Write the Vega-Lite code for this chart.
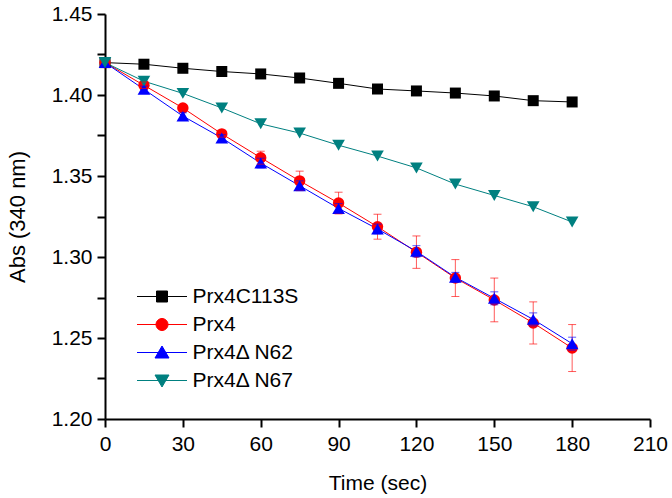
{
  "$schema": "https://vega.github.io/schema/vega-lite/v6.json",
  "width": 545,
  "height": 405,
  "autosize": "none",
  "padding": {"left": 105, "top": 14, "right": 22, "bottom": 79},
  "background": "white",
  "config": {"view": {"stroke": null}, "font": "Liberation Sans"},
  "datasets": {
    "main": [
      {"series": "Prx4C113S", "t": 0, "abs": 1.420},
      {"series": "Prx4C113S", "t": 15, "abs": 1.419},
      {"series": "Prx4C113S", "t": 30, "abs": 1.4165},
      {"series": "Prx4C113S", "t": 45, "abs": 1.4145},
      {"series": "Prx4C113S", "t": 60, "abs": 1.413},
      {"series": "Prx4C113S", "t": 75, "abs": 1.4105},
      {"series": "Prx4C113S", "t": 90, "abs": 1.4072},
      {"series": "Prx4C113S", "t": 105, "abs": 1.4037},
      {"series": "Prx4C113S", "t": 120, "abs": 1.4025},
      {"series": "Prx4C113S", "t": 135, "abs": 1.4012},
      {"series": "Prx4C113S", "t": 150, "abs": 1.3994},
      {"series": "Prx4C113S", "t": 165, "abs": 1.3965},
      {"series": "Prx4C113S", "t": 180, "abs": 1.3957},
      {"series": "Prx4", "t": 0, "abs": 1.420},
      {"series": "Prx4", "t": 15, "abs": 1.406},
      {"series": "Prx4", "t": 30, "abs": 1.392},
      {"series": "Prx4", "t": 45, "abs": 1.376},
      {"series": "Prx4", "t": 60, "abs": 1.3613},
      {"series": "Prx4", "t": 75, "abs": 1.347},
      {"series": "Prx4", "t": 90, "abs": 1.3333},
      {"series": "Prx4", "t": 105, "abs": 1.3187},
      {"series": "Prx4", "t": 120, "abs": 1.303},
      {"series": "Prx4", "t": 135, "abs": 1.287},
      {"series": "Prx4", "t": 150, "abs": 1.2735},
      {"series": "Prx4", "t": 165, "abs": 1.2593},
      {"series": "Prx4", "t": 180, "abs": 1.2438},
      {"series": "Prx4Δ N62", "t": 0, "abs": 1.420},
      {"series": "Prx4Δ N62", "t": 15, "abs": 1.4035},
      {"series": "Prx4Δ N62", "t": 30, "abs": 1.387},
      {"series": "Prx4Δ N62", "t": 45, "abs": 1.3735},
      {"series": "Prx4Δ N62", "t": 60, "abs": 1.358},
      {"series": "Prx4Δ N62", "t": 75, "abs": 1.344},
      {"series": "Prx4Δ N62", "t": 90, "abs": 1.330},
      {"series": "Prx4Δ N62", "t": 105, "abs": 1.3173},
      {"series": "Prx4Δ N62", "t": 120, "abs": 1.3035},
      {"series": "Prx4Δ N62", "t": 135, "abs": 1.2875},
      {"series": "Prx4Δ N62", "t": 150, "abs": 1.2745},
      {"series": "Prx4Δ N62", "t": 165, "abs": 1.2615},
      {"series": "Prx4Δ N62", "t": 180, "abs": 1.2465},
      {"series": "Prx4Δ N67", "t": 0, "abs": 1.420},
      {"series": "Prx4Δ N67", "t": 15, "abs": 1.4085},
      {"series": "Prx4Δ N67", "t": 30, "abs": 1.401},
      {"series": "Prx4Δ N67", "t": 45, "abs": 1.392},
      {"series": "Prx4Δ N67", "t": 60, "abs": 1.3822},
      {"series": "Prx4Δ N67", "t": 75, "abs": 1.3765},
      {"series": "Prx4Δ N67", "t": 90, "abs": 1.369},
      {"series": "Prx4Δ N67", "t": 105, "abs": 1.3623},
      {"series": "Prx4Δ N67", "t": 120, "abs": 1.355},
      {"series": "Prx4Δ N67", "t": 135, "abs": 1.345},
      {"series": "Prx4Δ N67", "t": 150, "abs": 1.338},
      {"series": "Prx4Δ N67", "t": 165, "abs": 1.331},
      {"series": "Prx4Δ N67", "t": 180, "abs": 1.3216}
    ],
    "err": [
      {"series": "Prx4", "t": 15, "lo": 1.404, "hi": 1.408},
      {"series": "Prx4", "t": 30, "lo": 1.390, "hi": 1.394},
      {"series": "Prx4", "t": 45, "lo": 1.374, "hi": 1.378},
      {"series": "Prx4", "t": 60, "lo": 1.3573, "hi": 1.3653},
      {"series": "Prx4", "t": 75, "lo": 1.341, "hi": 1.353},
      {"series": "Prx4", "t": 90, "lo": 1.3266, "hi": 1.340},
      {"series": "Prx4", "t": 105, "lo": 1.311, "hi": 1.3264},
      {"series": "Prx4", "t": 120, "lo": 1.293, "hi": 1.313},
      {"series": "Prx4", "t": 135, "lo": 1.2756, "hi": 1.2984},
      {"series": "Prx4", "t": 150, "lo": 1.260, "hi": 1.287},
      {"series": "Prx4", "t": 165, "lo": 1.2463, "hi": 1.2723},
      {"series": "Prx4", "t": 180, "lo": 1.2293, "hi": 1.2583},
      {"series": "Prx4Δ N62", "t": 15, "lo": 1.4015, "hi": 1.4055},
      {"series": "Prx4Δ N62", "t": 30, "lo": 1.385, "hi": 1.389},
      {"series": "Prx4Δ N62", "t": 45, "lo": 1.3715, "hi": 1.3755},
      {"series": "Prx4Δ N62", "t": 60, "lo": 1.355, "hi": 1.361},
      {"series": "Prx4Δ N62", "t": 75, "lo": 1.341, "hi": 1.347},
      {"series": "Prx4Δ N62", "t": 90, "lo": 1.327, "hi": 1.333},
      {"series": "Prx4Δ N62", "t": 105, "lo": 1.3143, "hi": 1.3203},
      {"series": "Prx4Δ N62", "t": 120, "lo": 1.300, "hi": 1.307},
      {"series": "Prx4Δ N62", "t": 135, "lo": 1.2845, "hi": 1.2905},
      {"series": "Prx4Δ N62", "t": 150, "lo": 1.2705, "hi": 1.2785},
      {"series": "Prx4Δ N62", "t": 165, "lo": 1.2575, "hi": 1.2655},
      {"series": "Prx4Δ N62", "t": 180, "lo": 1.2425, "hi": 1.2505}
    ]
  },
  "layer": [
    {
      "data": {"name": "main"},
      "mark": {"type": "line", "strokeWidth": 1},
      "encoding": {
        "x": {
          "field": "t", "type": "quantitative",
          "scale": {"domain": [0, 210], "nice": false, "zero": false},
          "axis": {
            "title": "Time (sec)",
            "values": [0, 15, 30, 45, 60, 75, 90, 105, 120, 135, 150, 165, 180, 195, 210],
            "labelExpr": "datum.value % 30 === 0 ? datum.label : ''",
            "tickSize": 8,
            "grid": false,
            "domainColor": "black", "domainWidth": 2,
            "tickColor": "black", "tickWidth": 2,
            "labelFontSize": 21, "labelColor": "black", "labelPadding": 6,
            "labelFlush": false, "labelOverlap": false,
            "titleFontSize": 21, "titleFontWeight": "normal", "titleColor": "black", "titlePadding": 18,
            "encode": {"ticks": {"update": {"y2": {"signal": "datum.value % 30 === 0 ? 8 : 4"}}}}
          }
        },
        "y": {
          "field": "abs", "type": "quantitative",
          "scale": {"domain": [1.2, 1.45], "nice": false, "zero": false},
          "axis": {
            "title": "Abs (340 nm)",
            "values": [1.2, 1.225, 1.25, 1.275, 1.3, 1.325, 1.35, 1.375, 1.4, 1.425, 1.45],
            "format": ".2f",
            "labelExpr": "round(datum.value * 1000) % 50 === 0 ? datum.label : ''",
            "tickSize": 8,
            "grid": false,
            "domainColor": "black", "domainWidth": 2,
            "tickColor": "black", "tickWidth": 2,
            "labelFontSize": 21, "labelColor": "black", "labelPadding": 5,
            "labelFlush": false, "labelOverlap": false,
            "titleFontSize": 22, "titleFontWeight": "normal", "titleColor": "black", "titlePadding": 22,
            "encode": {"ticks": {"update": {"x2": {"signal": "round(datum.value * 1000) % 50 === 0 ? -8 : -4"}}}}
          }
        },
        "color": {
          "field": "series", "type": "nominal",
          "scale": {"domain": ["Prx4C113S", "Prx4", "Prx4Δ N62", "Prx4Δ N67"], "range": ["#000000", "#ff0000", "#0000ff", "#008080"]},
          "legend": {
            "title": null,
            "orient": "none",
            "legendX": 46.5,
            "legendY": 272,
            "padding": 0,
            "rowPadding": 6,
            "symbolSize": 400,
            "labelOffset": 20,
            "labelFontSize": 21,
            "labelColor": "black",
            "labelFont": "Liberation Sans",
            "labelLimit": 300,
            "encode": {
              "symbols": {
                "update": {
                  "shape": {"signal": "datum.value === 'Prx4C113S' ? 'M-2.5,0H2.5M-0.55,-0.55H0.55V0.55H-0.55Z' : datum.value === 'Prx4' ? 'M-2.5,0H2.5M0.6,0A0.6,0.6,0,1,1,-0.6,0A0.6,0.6,0,1,1,0.6,0Z' : datum.value === 'Prx4Δ N62' ? 'M-2.5,0H2.5M0,-0.65L0.7,0.55H-0.7Z' : 'M-2.5,0H2.5M0,0.65L0.7,-0.55H-0.7Z'"},
                  "fill": {"scale": "color", "field": "value"},
                  "stroke": {"scale": "color", "field": "value"},
                  "strokeWidth": {"value": 1},
                  "opacity": {"value": 1}
                }
              }
            }
          }
        }
      }
    },
    {
      "data": {"name": "err"},
      "mark": {"type": "rule", "strokeWidth": 1, "opacity": 0.65},
      "encoding": {
        "x": {"field": "t", "type": "quantitative", "scale": {"domain": [0, 210], "nice": false, "zero": false}},
        "y": {"field": "lo", "type": "quantitative", "scale": {"domain": [1.2, 1.45], "nice": false, "zero": false}},
        "y2": {"field": "hi"},
        "color": {"field": "series", "type": "nominal", "legend": null}
      }
    },
    {
      "data": {"name": "main"},
      "transform": [{"filter": "datum.series === 'Prx4C113S'"}],
      "mark": {"type": "point", "filled": true, "opacity": 1, "size": 121, "shape": "square"},
      "encoding": {
        "x": {"field": "t", "type": "quantitative"},
        "y": {"field": "abs", "type": "quantitative"},
        "color": {"field": "series", "type": "nominal", "legend": null}
      }
    },
    {
      "data": {"name": "main"},
      "transform": [{"filter": "datum.series === 'Prx4'"}],
      "mark": {"type": "point", "filled": true, "opacity": 1, "size": 130, "shape": "circle"},
      "encoding": {
        "x": {"field": "t", "type": "quantitative"},
        "y": {"field": "abs", "type": "quantitative"},
        "color": {"field": "series", "type": "nominal", "legend": null}
      }
    },
    {
      "data": {"name": "main"},
      "transform": [{"filter": "datum.series === 'Prx4Δ N62'"}],
      "mark": {"type": "point", "filled": true, "opacity": 1, "size": 160, "shape": "triangle-up"},
      "encoding": {
        "x": {"field": "t", "type": "quantitative"},
        "y": {"field": "abs", "type": "quantitative"},
        "color": {"field": "series", "type": "nominal", "legend": null}
      }
    },
    {
      "data": {"name": "main"},
      "transform": [{"filter": "datum.series === 'Prx4Δ N67'"}],
      "mark": {"type": "point", "filled": true, "opacity": 1, "size": 160, "shape": "triangle-down"},
      "encoding": {
        "x": {"field": "t", "type": "quantitative"},
        "y": {"field": "abs", "type": "quantitative"},
        "color": {"field": "series", "type": "nominal", "legend": null}
      }
    },
    {
      "data": {"name": "err"},
      "mark": {"type": "tick", "orient": "horizontal", "size": 8, "thickness": 1, "opacity": 0.65},
      "encoding": {
        "x": {"field": "t", "type": "quantitative"},
        "y": {"field": "lo", "type": "quantitative"},
        "color": {"field": "series", "type": "nominal", "legend": null}
      }
    },
    {
      "data": {"name": "err"},
      "mark": {"type": "tick", "orient": "horizontal", "size": 8, "thickness": 1, "opacity": 0.65},
      "encoding": {
        "x": {"field": "t", "type": "quantitative"},
        "y": {"field": "hi", "type": "quantitative"},
        "color": {"field": "series", "type": "nominal", "legend": null}
      }
    }
  ]
}
